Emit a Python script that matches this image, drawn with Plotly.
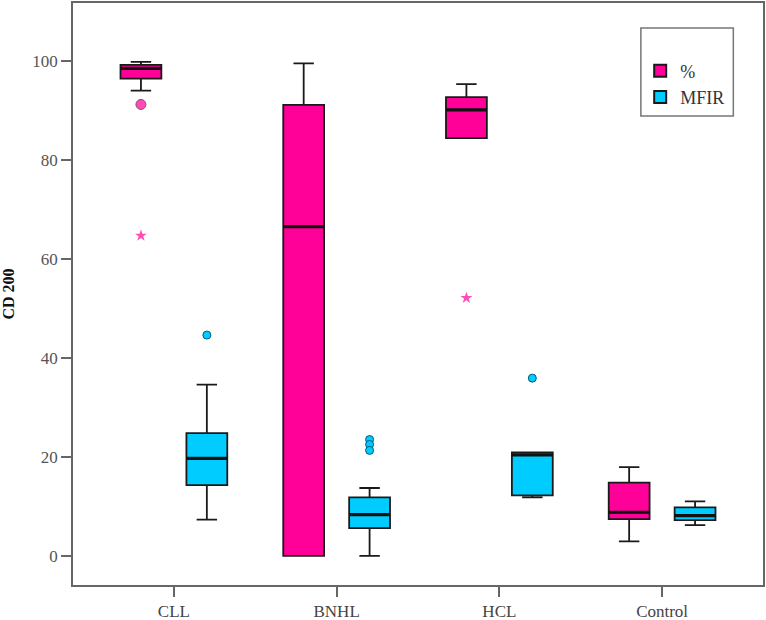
import plotly.graph_objects as go

categories = ["CLL", "BNHL", "HCL", "Control"]

# Percentage (%) box statistics
pct_lowerfence = [94.0, 0.0, 84.4, 2.9]
pct_q1 = [96.4, 0.0, 84.4, 7.4]
pct_median = [98.5, 66.5, 90.1, 8.8]
pct_q3 = [99.2, 91.1, 92.7, 14.8]
pct_upperfence = [99.8, 99.5, 95.3, 17.9]

# MFIR box statistics
mfir_lowerfence = [7.3, 0.0, 11.8, 6.2]
mfir_q1 = [14.3, 5.6, 12.2, 7.2]
mfir_median = [19.7, 8.3, 20.4, 8.1]
mfir_q3 = [24.8, 11.8, 20.9, 9.8]
mfir_upperfence = [34.6, 13.7, 20.9, 11.0]

# Outliers (circle) and extremes (star)
pct_out_x = ["CLL", "CLL", "HCL"]
pct_out_y = [91.2, 64.7, 52.1]
pct_out_kind = ["circle", "star", "star"]

mfir_out_x = ["CLL", "BNHL", "BNHL", "BNHL", "HCL"]
mfir_out_y = [44.6, 23.5, 22.5, 21.3, 35.9]

y_ticks = [0, 20, 40, 60, 80, 100]

PINK = "#FF0099"
CYAN = "#00CCFF"
SERIF = "Liberation Serif, Times New Roman, serif"

fig = go.Figure()
fig.add_trace(go.Box(
    name="%", x=categories, q1=pct_q1, median=pct_median, q3=pct_q3,
    lowerfence=pct_lowerfence, upperfence=pct_upperfence,
    fillcolor=PINK, line=dict(color="#1a1a1a", width=1.8),
    boxpoints=False, offsetgroup="pct", whiskerwidth=0.5,
))
fig.add_trace(go.Box(
    name="MFIR", x=categories, q1=mfir_q1, median=mfir_median, q3=mfir_q3,
    lowerfence=mfir_lowerfence, upperfence=mfir_upperfence,
    fillcolor=CYAN, line=dict(color="#1a1a1a", width=1.8),
    boxpoints=False, offsetgroup="mfir", whiskerwidth=0.5,
))
# thicker median bars (degenerate boxes drawn on top of the medians)
for med, grp in ((pct_median, "pct"), (mfir_median, "mfir")):
    fig.add_trace(go.Box(
        x=categories, q1=med, median=med, q3=med, lowerfence=med,
        upperfence=med, fillcolor="rgba(0,0,0,0)",
        line=dict(color="#111111", width=3.2), boxpoints=False,
        offsetgroup=grp, whiskerwidth=0, showlegend=False, hoverinfo="skip",
    ))

pct_size = [10 if s == "circle" else 9 for s in pct_out_kind]
pct_line = [1 if s == "circle" else 0 for s in pct_out_kind]
fig.add_trace(go.Scatter(
    x=pct_out_x, y=pct_out_y, mode="markers", offsetgroup="pct",
    marker=dict(symbol=pct_out_kind, size=pct_size, color=PINK,
                line=dict(color="#5a0030", width=pct_line)),
    showlegend=False, hoverinfo="y",
))
fig.add_trace(go.Scatter(
    x=mfir_out_x, y=mfir_out_y, mode="markers", offsetgroup="mfir",
    marker=dict(symbol="circle", size=8, color=CYAN,
                line=dict(color="#005a7a", width=1)),
    showlegend=False, hoverinfo="y",
))

fig.update_layout(
    width=766, height=620,
    margin=dict(l=73, r=3, t=3, b=35, autoexpand=False),
    paper_bgcolor="white", plot_bgcolor="white",
    boxmode="group", boxgap=0.19, boxgroupgap=0.38,
    scattermode="group", scattergap=0.19,
    font=dict(family=SERIF, size=14, color="#555555"),
    showlegend=True,
    legend=dict(x=0.822, y=0.915, xanchor="left", yanchor="top",
                bgcolor="rgba(0,0,0,0)", borderwidth=0,
                font=dict(family=SERIF, size=18, color="#333333"),
                tracegroupgap=0, itemsizing="constant", itemwidth=30),
    shapes=[dict(type="rect", xref="paper", yref="paper",
                 x0=0.823, x1=0.957, y0=0.806, y1=0.957,
                 line=dict(color="#777777", width=1.5))],
)
fig.update_xaxes(
    type="category", categoryorder="array", categoryarray=categories,
    range=[-0.62, 3.62],
    showline=True, linecolor="#666666", linewidth=1.5, mirror=True,
    ticks="outside", ticklen=10, tickcolor="#666666", tickwidth=1.5,
    showgrid=False, zeroline=False, automargin=False,
    tickfont=dict(family=SERIF, size=17, color="#444444"),
)
fig.update_yaxes(
    range=[-5.9, 111.7], tickvals=y_ticks,
    showline=True, linecolor="#666666", linewidth=1.5, mirror=True,
    ticks="outside", ticklen=10, tickcolor="#666666", tickwidth=1.5,
    showgrid=False, zeroline=False, automargin=False,
    tickfont=dict(family=SERIF, size=17, color="#555555"),
    title=dict(text="<b>CD 200</b>", standoff=20,
               font=dict(family=SERIF, size=16, color="#111111")),
)

fig.write_html("out.html",
               config={"displayModeBar": False},
               post_script="document.body.style.margin='0';")
